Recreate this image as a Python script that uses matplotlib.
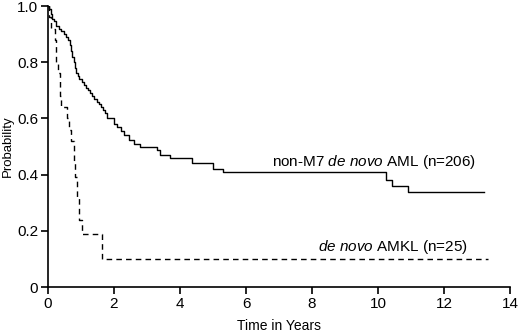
import numpy as np
import matplotlib
matplotlib.use('Agg')
import matplotlib.pyplot as plt

plt.rcParams['font.family'] = ['Liberation Sans', 'DejaVu Sans']
plt.rcParams['mathtext.fontset'] = 'custom'
plt.rcParams['mathtext.rm'] = 'Liberation Sans'
plt.rcParams['mathtext.it'] = 'Liberation Sans:italic'

# non-M7 de novo AML (n=206), step points
aml_t = [0, 0.03, 0.08, 0.12, 0.18, 0.25, 0.32, 0.40, 0.48, 0.56, 0.62, 0.66,
         0.70, 0.74, 0.78, 0.82, 0.86, 0.90, 0.95, 1.02, 1.10, 1.16, 1.22,
         1.28, 1.34, 1.40, 1.47, 1.54, 1.60, 1.66, 1.72, 1.78, 2.00, 2.10,
         2.20, 2.30, 2.45, 2.60, 2.80, 3.30, 3.40, 3.70, 4.35, 5.00, 5.30,
         10.23, 10.43, 10.92, 13.2]
aml_s = [1.0, 0.99, 0.97, 0.955, 0.945, 0.93, 0.92, 0.91, 0.90, 0.89, 0.88,
         0.86, 0.84, 0.82, 0.80, 0.78, 0.76, 0.75, 0.74, 0.73, 0.72, 0.71,
         0.70, 0.69, 0.68, 0.67, 0.66, 0.65, 0.64, 0.63, 0.62, 0.60, 0.58,
         0.57, 0.555, 0.54, 0.525, 0.51, 0.50, 0.488, 0.47, 0.458, 0.44,
         0.42, 0.41, 0.38, 0.36, 0.337, 0.337]

# de novo AMKL (n=25)
amkl_t = [0, 0.04, 0.10, 0.22, 0.25, 0.30, 0.35, 0.40, 0.58, 0.64, 0.69,
          0.79, 0.83, 0.89, 0.93, 1.02, 1.65, 13.33]
amkl_s = [1.0, 0.96, 0.92, 0.88, 0.80, 0.76, 0.68, 0.64, 0.60, 0.56, 0.52,
          0.44, 0.39, 0.32, 0.24, 0.19, 0.10, 0.10]

xticks = [0, 2, 4, 6, 8, 10, 12, 14]
yticks = [0, 0.2, 0.4, 0.6, 0.8, 1.0]
ylabels = ['0', '0.2', '0.4', '0.6', '0.8', '1.0']

fig = plt.figure(figsize=(5.2, 3.35), dpi=100)
ax = fig.add_axes([0.0923, 0.143, 0.8885, 0.839])

ax.plot(aml_t, aml_s, drawstyle='steps-post', color='black', lw=1.0)
ax.plot(amkl_t, amkl_s, drawstyle='steps-post', color='black', lw=1.0,
        dashes=(4, 3))

ax.text(6.78, 0.446, r'non-M7 $\mathit{de\ novo}$ AML (n=206)', fontsize=11,
        va='center', ha='left')
ax.text(8.19, 0.141, r'$\mathit{de\ novo}$ AMKL (n=25)', fontsize=11,
        va='center', ha='left')

ax.set_xlim(0, 14)
ax.set_ylim(0, 1)
ax.set_xticks(xticks)
ax.set_yticks(yticks)
ax.set_yticklabels(ylabels)
for s in ['top', 'right']:
    ax.spines[s].set_visible(False)
for s in ['left', 'bottom']:
    ax.spines[s].set_linewidth(1.2)
ax.tick_params(direction='out', length=5, width=1.2, labelsize=11, pad=2)

ax.set_xlabel('Time in Years', fontsize=10, labelpad=6)
ax.set_ylabel('Probability', fontsize=9.5, labelpad=2)

fig.savefig('out.png', dpi=100)
